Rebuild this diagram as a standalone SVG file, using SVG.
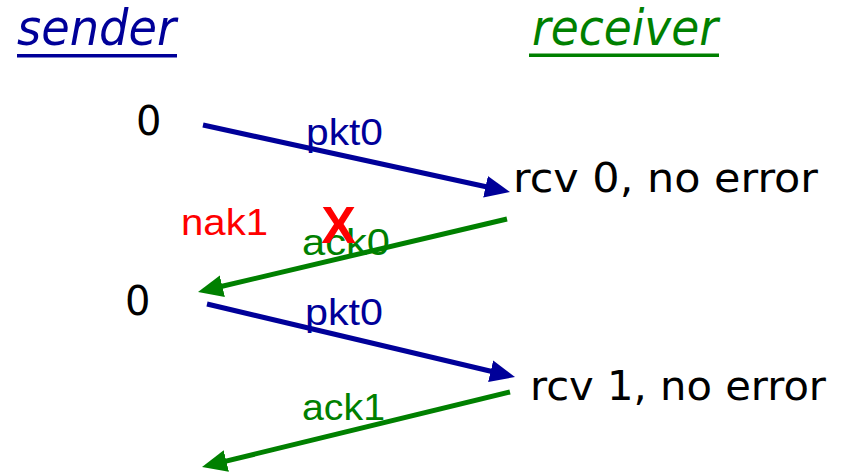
<svg xmlns="http://www.w3.org/2000/svg" width="852" height="472" viewBox="0 0 852 472">
  <style>
    .title { font-family: "DejaVu Sans", Verdana, sans-serif; font-style: italic; font-size: 50px; }
    .state { font-family: "DejaVu Sans", Tahoma, sans-serif; font-size: 40px; fill: #000; }
    .lbl { font-family: "Liberation Sans", Arial, sans-serif; font-size: 37px; }
    .blue { fill: #000099; }
    .green { fill: #008000; }
    .red { fill: #ff0000; }
    .msg { fill: none; stroke-width: 5; }
  </style>
  <defs>
    <marker id="headBlue" markerUnits="userSpaceOnUse" viewBox="0 -12 26 24" markerWidth="26" markerHeight="24" refX="10" refY="0" orient="auto">
      <path d="M0,-11 L25,0 L0,11 z" fill="#000099"/>
    </marker>
    <marker id="headGreen" markerUnits="userSpaceOnUse" viewBox="0 -12 26 24" markerWidth="26" markerHeight="24" refX="10" refY="0" orient="auto">
      <path d="M0,-11 L25,0 L0,11 z" fill="#008000"/>
    </marker>
  </defs>

  <!-- column headings -->
  <g id="sender">
    <text class="title blue" x="17" y="45" textLength="159" lengthAdjust="spacingAndGlyphs">sender</text>
    <rect x="17" y="54" width="160" height="3.5" fill="#000099"/>
  </g>
  <g id="receiver">
    <text class="title green" x="532" y="45" textLength="186" lengthAdjust="spacingAndGlyphs">receiver</text>
    <rect x="529" y="53.5" width="190" height="3.5" fill="#008000"/>
  </g>

  <!-- sender / receiver states -->
  <g id="send-0a"><text class="state" x="136" y="135">0</text></g>
  <g id="rcv-0"><text class="state" x="513" y="192" textLength="305" lengthAdjust="spacingAndGlyphs">rcv 0, no error</text></g>
  <g id="send-0b"><text class="state" x="125" y="315">0</text></g>
  <g id="rcv-1"><text class="state" x="530" y="400" textLength="296" lengthAdjust="spacingAndGlyphs">rcv 1, no error</text></g>

  <!-- messages -->
  <g id="connectors">
    <line class="msg" stroke="#000099" x1="203" y1="125" x2="495.3" y2="188.8" marker-end="url(#headBlue)"/>
    <line class="msg" stroke="#008000" x1="507" y1="219" x2="212.6" y2="288.5" marker-end="url(#headGreen)"/>
    <line class="msg" stroke="#000099" x1="207" y1="304" x2="500.4" y2="373.5" marker-end="url(#headBlue)"/>
    <line class="msg" stroke="#008000" x1="510" y1="392" x2="216.6" y2="463.4" marker-end="url(#headGreen)"/>
  </g>

  <!-- message labels -->
  <g id="label-pkt0a"><text class="lbl blue" x="306" y="145" textLength="77" lengthAdjust="spacingAndGlyphs">pkt0</text></g>
  <g id="label-nak1"><text class="lbl red" x="181" y="235" textLength="87" lengthAdjust="spacingAndGlyphs">nak1</text></g>
  <g id="label-ack0"><text class="lbl green" x="302" y="255" textLength="88" lengthAdjust="spacingAndGlyphs">ack0</text></g>
  <g id="lost-mark"><text x="338.5" y="243" text-anchor="middle" font-family="Liberation Sans, Arial, sans-serif" font-weight="bold" font-size="52" fill="#ff0000">X</text></g>
  <g id="label-pkt0b"><text class="lbl blue" x="305" y="325" textLength="78" lengthAdjust="spacingAndGlyphs">pkt0</text></g>
  <g id="label-ack1"><text class="lbl green" x="302" y="420" textLength="83" lengthAdjust="spacingAndGlyphs">ack1</text></g>
</svg>
